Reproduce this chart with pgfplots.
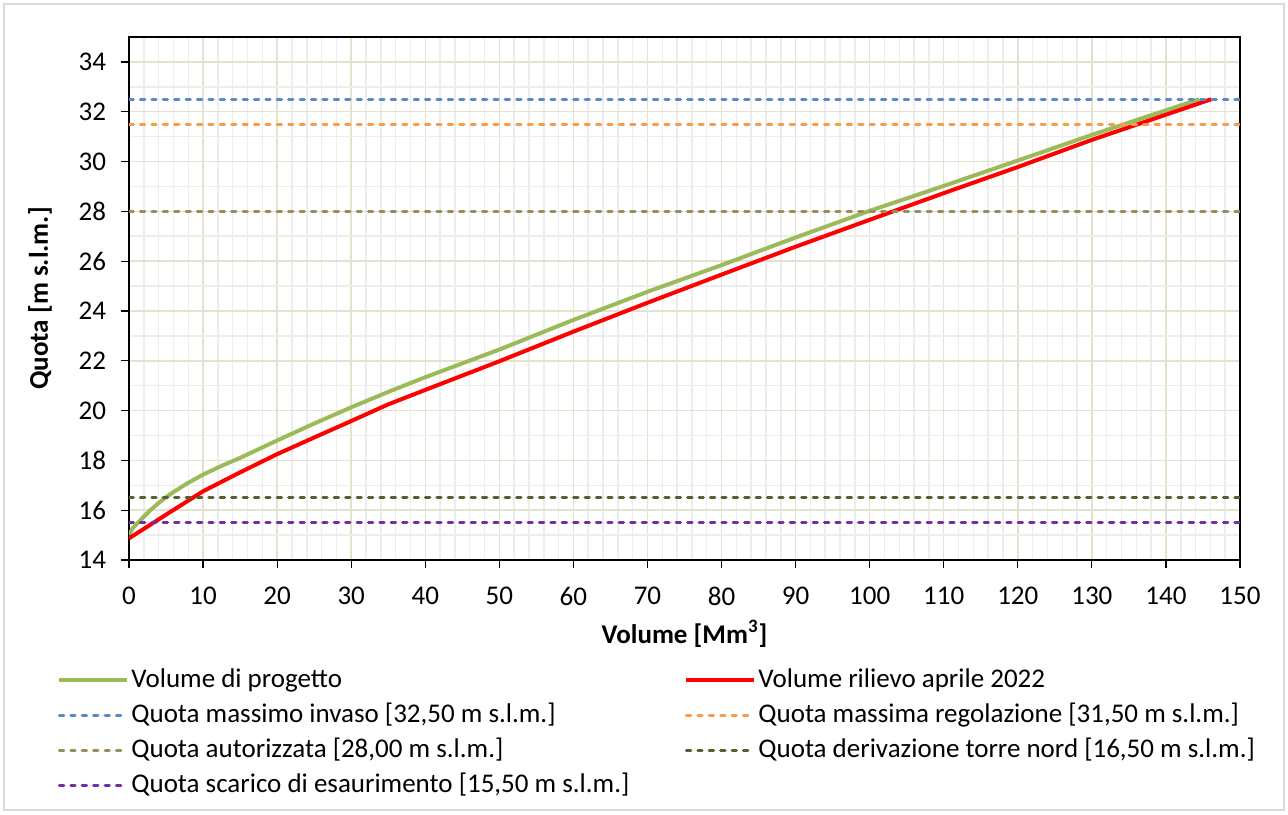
\documentclass[border=0pt]{standalone}
\usepackage{pgfplots}
\pgfplotsset{compat=1.18}
\usepackage{fontspec}
\setmainfont{Carlito}

\definecolor{cprog}{HTML}{9BBB59}
\definecolor{cril}{HTML}{FF0000}
\definecolor{cinv}{HTML}{5A88C8}
\definecolor{creg}{HTML}{F99B4A}
\definecolor{caut}{HTML}{988E5A}
\definecolor{cder}{HTML}{546030}
\definecolor{cesa}{HTML}{7030A0}
\definecolor{majgrid}{HTML}{E6E0CE}
\definecolor{mingrid}{HTML}{EDEDED}
\definecolor{framegray}{HTML}{D9D9D9}

\begin{document}
\begin{tikzpicture}
\useasboundingbox (-64.5pt,-127pt) rectangle (579.5pt,280pt);
\begin{axis}[
  width=555.5pt, height=261.5pt, scale only axis,
  xmin=0, xmax=150, ymin=14, ymax=35,
  xtick={0,10,...,150}, ytick={14,16,...,34},
  minor x tick num=4, minor y tick num=1,
  grid=both,
  major grid style={color=majgrid, line width=0.75pt},
  minor grid style={color=mingrid, line width=0.75pt},
  tick align=outside, major tick length=4pt, minor tick length=0pt,
  tick style={black, line width=0.6pt},
  axis line style={black, line width=0.75pt},
  xtick pos=bottom, ytick pos=left,
  /pgf/number format/assume math mode=true,
  ticklabel style={font=\fontsize{13.5}{16}\selectfont},
  xticklabel style={yshift=-6pt},
  yticklabel style={xshift=-4pt},
  xlabel={\textbf{Volume [Mm\textsuperscript{3}]}},
  ylabel={\textbf{Quota [m s.l.m.]}},
  label style={font=\fontsize{13.5}{16}\selectfont},
  xlabel style={at={(axis description cs:0.5,-0.1415)}, anchor=center},
  ylabel style={at={(axis description cs:-0.0801,0.5)}, anchor=center},
  legend columns=2,
  legend cell align=left,
  legend image code/.code={\draw[#1] (0pt,0pt) -- (34pt,0pt);},
  legend style={at={(axis description cs:-0.0648,-0.2)}, anchor=north west,
    draw=none, fill=none, font=\fontsize{13.5}{16}\selectfont,
    inner sep=0pt, row sep=2.5pt, column sep=0pt,
    nodes={inner sep=1pt, text height=10pt, text depth=3pt},
    /tikz/every even column/.append style={column sep=26.5pt}},
  dline/.style={line width=1.5pt, dash pattern=on 2.2pt off 3.5pt, line cap=round},
]
\addplot[cprog, line width=2pt, line join=round] coordinates {
 (0,15.0) (0.5,15.28) (1,15.43) (2,15.74) (3,16.03) (4,16.29) (5,16.52)
 (6,16.73) (8,17.1) (10,17.43) (12.5,17.78) (15,18.1) (20,18.8) (25,19.48)
 (30,20.13) (35,20.75) (40,21.34) (50,22.45) (60,23.64) (70,24.77)
 (80,25.84) (90,26.95) (100,28.02) (110,29.02) (120,30.04) (130,31.07)
 (144.5,32.5)};
\addlegendentry{Volume di progetto}
\addplot[cril, line width=2pt, line join=round] coordinates {
 (0,14.87) (5,15.82) (10,16.76) (15,17.52) (20,18.25) (25,18.92) (30,19.58)
 (35,20.25) (40,20.83) (50,21.98) (60,23.17) (70,24.33) (80,25.46)
 (90,26.58) (100,27.66) (110,28.73) (120,29.78) (130,30.87) (146.1,32.5)};
\addlegendentry{Volume rilievo aprile 2022}
\addplot[cinv, dline] coordinates {(0,32.5) (150,32.5)};
\addlegendentry{Quota massimo invaso [32,50 m s.l.m.]}
\addplot[creg, dline] coordinates {(0,31.5) (150,31.5)};
\addlegendentry{Quota massima regolazione [31,50 m s.l.m.]}
\addplot[caut, dline] coordinates {(0,28) (150,28)};
\addlegendentry{Quota autorizzata [28,00 m s.l.m.]}
\addplot[cder, dline] coordinates {(0,16.5) (150,16.5)};
\addlegendentry{Quota derivazione torre nord [16,50 m s.l.m.]}
\addplot[cesa, dline] coordinates {(0,15.5) (150,15.5)};
\addlegendentry{Quota scarico di esaurimento [15,50 m s.l.m.]}
\end{axis}
\draw[framegray, line width=1pt] (-62.35pt,-124.85pt) rectangle (577.35pt,277.85pt);
\end{tikzpicture}
\end{document}
